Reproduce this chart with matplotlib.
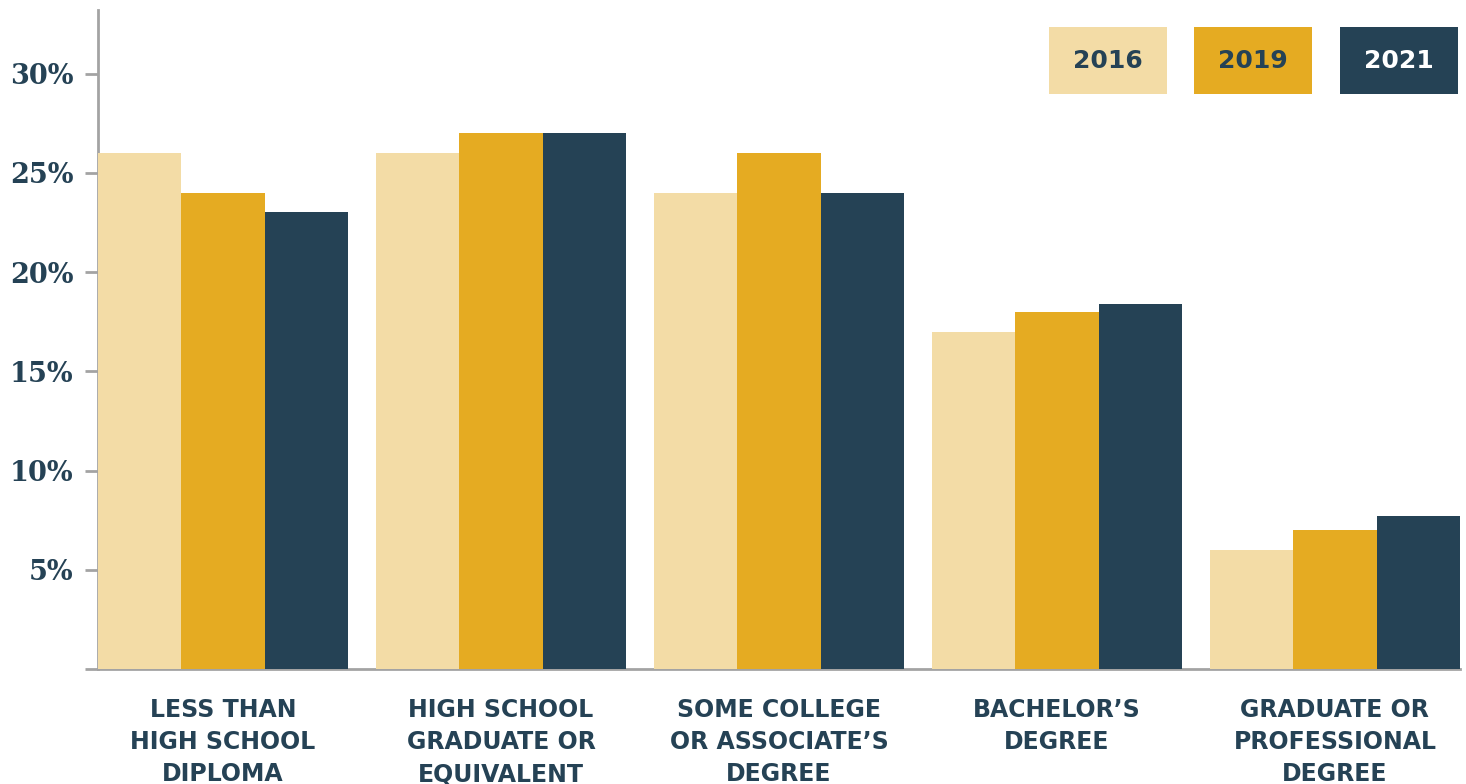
import matplotlib.pyplot as plt
import numpy as np
from matplotlib.patches import Rectangle

categorias = ["LESS THAN\nHIGH SCHOOL\nDIPLOMA",
              "HIGH SCHOOL\nGRADUATE OR\nEQUIVALENT",
              "SOME COLLEGE\nOR ASSOCIATE’S\nDEGREE",
              "BACHELOR’S\nDEGREE",
              "GRADUATE OR\nPROFESSIONAL\nDEGREE"]
anos = ["2016", "2019", "2021"]
valores_2016 = [26, 26, 24, 17, 6]
valores_2019 = [24, 27, 26, 18, 7]
valores_2021 = [23, 27, 24, 18.4, 7.7]
yticks = [0, 5, 10, 15, 20, 25, 30]
ytick_labels = ["", "5%", "10%", "15%", "20%", "25%", "30%"]

cores = ["#F3DCA6", "#E5AB22", "#254255"]
cor_texto = "#254255"
cor_eixo = "#a3a3a3"

fig = plt.figure(figsize=(14.66, 7.84), dpi=100)
ax = fig.add_axes([98 / 1466, 1 - 669 / 784, (1460 - 98) / 1466, (669 - 10) / 784])

x = np.arange(len(categorias))
largura = 0.3
for i, (vals, cor) in enumerate(zip([valores_2016, valores_2019, valores_2021], cores)):
    ax.bar(x + (i - 1) * largura, vals, width=largura, color=cor, zorder=3)

ax.set_xlim(-0.45, 4.45)
ax.set_ylim(0, 33.2)

ax.set_yticks(yticks)
ax.set_yticklabels(ytick_labels, fontfamily="DejaVu Serif", fontweight="bold",
                   fontsize=19.5, color=cor_texto)
ax.tick_params(axis="y", length=9.5, width=2, color=cor_eixo, pad=8)

ax.set_xticks(x)
ax.set_xticklabels(categorias, fontfamily="DejaVu Sans", fontweight="bold",
                   fontsize=17, color=cor_texto, linespacing=1.42, va="top")
ax.tick_params(axis="x", length=0, pad=21)

for lado in ["top", "right"]:
    ax.spines[lado].set_visible(False)
for lado in ["left", "bottom"]:
    ax.spines[lado].set_color(cor_eixo)
    ax.spines[lado].set_linewidth(2)
    ax.spines[lado].set_zorder(2)

# legenda feita com caixas
caixas_x = [1049, 1194, 1340]
for ano, cor, cx in zip(anos, cores, caixas_x):
    fig.add_artist(Rectangle((cx / 1466, 1 - 94 / 784), 118 / 1466, 67 / 784,
                             transform=fig.transFigure, color=cor, lw=0))
    cor_ano = "white" if ano == "2021" else cor_texto
    fig.text((cx + 59) / 1466, 1 - 61 / 784, ano, ha="center", va="center",
             fontsize=18, fontweight="bold", color=cor_ano)

fig.savefig("out.png", dpi=100)
